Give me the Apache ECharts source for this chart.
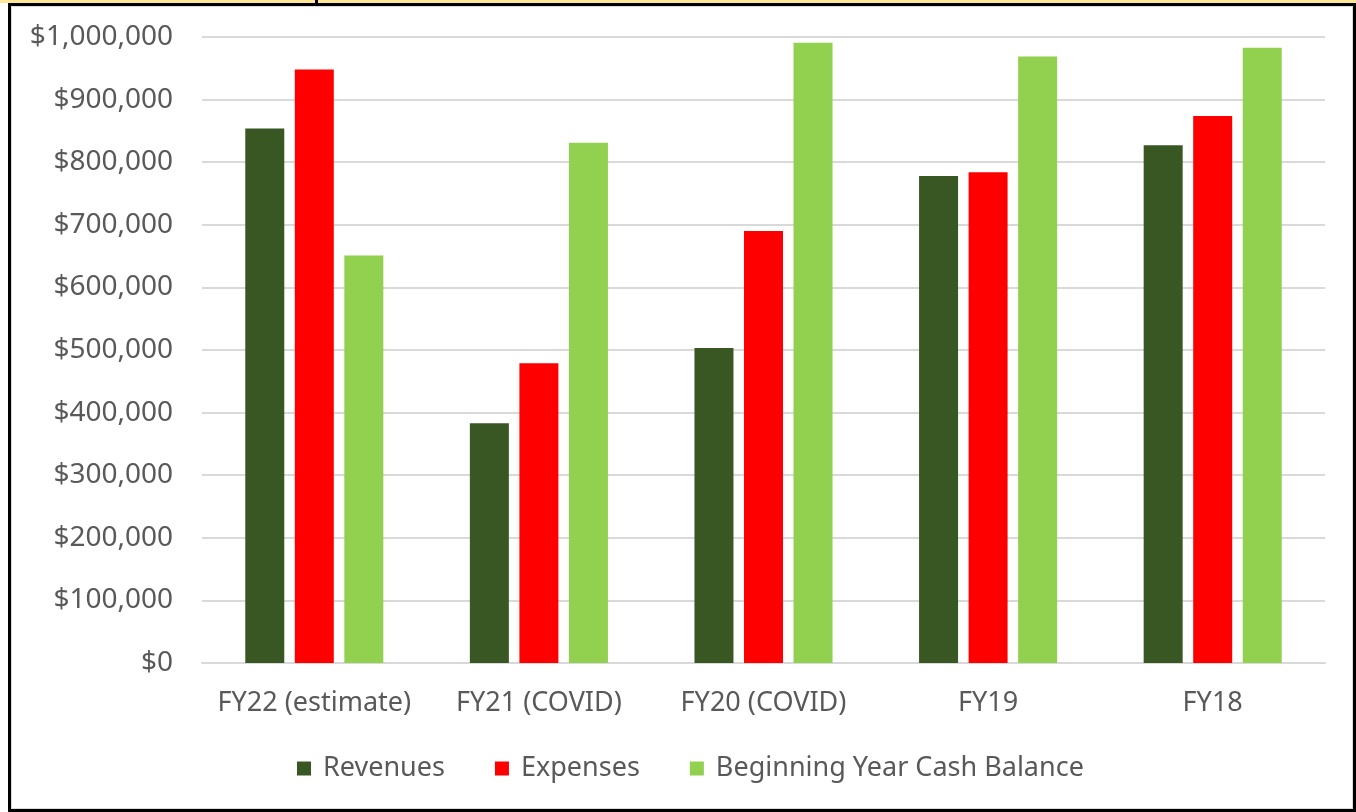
<!DOCTYPE html>
<html>
<head>
<meta charset="utf-8">
<script src="https://cdn.jsdelivr.net/npm/echarts@6/dist/echarts.min.js"></script>
<style>
  body { margin: 0; background: #ffffff; }
  #strip { position: absolute; left: 0; top: 0; width: 1356px; height: 3px; background: #ffe699; }
  #tick { position: absolute; left: 315px; top: 0; width: 3px; height: 3px; background: #000; }
  #frame {
    position: absolute; left: 8px; top: 3px; width: 1348px; height: 809px;
    box-sizing: border-box; border: 3px solid #000;
    box-shadow: inset 0 0 0 1px #dcdcdc;
  }
  #main { position: absolute; left: 0; top: 0; width: 1356px; height: 812px; }
</style>
</head>
<body>
<div id="strip"></div>
<div id="tick"></div>
<div id="frame"></div>
<div id="main"></div>
<script>
  // Chart data
  var categories = ['FY22 (estimate)', 'FY21 (COVID)', 'FY20 (COVID)', 'FY19', 'FY18'];
  var seriesNames = ['Revenues', 'Expenses', 'Beginning Year Cash Balance'];
  var revenues = [854000, 383000, 503000, 778000, 827000];
  var expenses = [948000, 479000, 690000, 784000, 874000];
  var cashBalance = [651000, 831000, 991000, 969000, 983000];
  var yTicks = [0, 100000, 200000, 300000, 400000, 500000, 600000, 700000, 800000, 900000, 1000000];

  var colors = ['#385723', '#ff0000', '#92d050'];
  var textColor = '#595959',
    fontFamily = '"Noto Sans", sans-serif';

  /**
   * @name formatMoney
   * @desc turns a number into a dollar label
   * @param {number} value - amount
   * @returns {string}
   */
  function formatMoney(value) {
    return '$' + Math.round(value).toLocaleString('en-US');
  }

  function makeSeries(name, values, color) {
    return {
      name: name,
      type: 'bar',
      barWidth: 39,
      barGap: '27%',
      itemStyle: { color: color },
      emphasis: { disabled: true },
      data: values
    };
  }

  var myChart = echarts.init(document.getElementById('main'));

  var option = {
    animation: false,
    textStyle: { fontFamily: fontFamily },
    grid: {
      left: 202,
      right: 31,
      top: 37,
      bottom: 149,
      containLabel: false
    },
    legend: {
      left: 292,
      top: 750,
      icon: 'rect',
      itemWidth: 14,
      itemHeight: 14,
      itemGap: 50,
      data: seriesNames,
      textStyle: {
        color: textColor,
        fontSize: 27,
        fontFamily: fontFamily,
        padding: [0, 0, 0, 7]
      }
    },
    xAxis: {
      type: 'category',
      data: categories,
      axisTick: { show: false },
      axisLine: { show: true, lineStyle: { color: '#d9d9d9', width: 2 } },
      axisLabel: {
        interval: 0,
        color: textColor,
        fontSize: 27,
        fontFamily: fontFamily,
        margin: 27
      }
    },
    yAxis: {
      type: 'value',
      min: yTicks[0],
      max: yTicks[yTicks.length - 1],
      interval: yTicks[1] - yTicks[0],
      axisLine: { show: false },
      axisTick: { show: false },
      splitLine: { lineStyle: { color: '#d9d9d9', width: 2 } },
      axisLabel: {
        color: textColor,
        fontSize: 28,
        fontFamily: fontFamily,
        margin: 29,
        formatter: formatMoney
      }
    },
    series: [
      makeSeries(seriesNames[0], revenues, colors[0]),
      makeSeries(seriesNames[1], expenses, colors[1]),
      makeSeries(seriesNames[2], cashBalance, colors[2])
    ]
  };

  myChart.setOption(option);
</script>
</body>
</html>
